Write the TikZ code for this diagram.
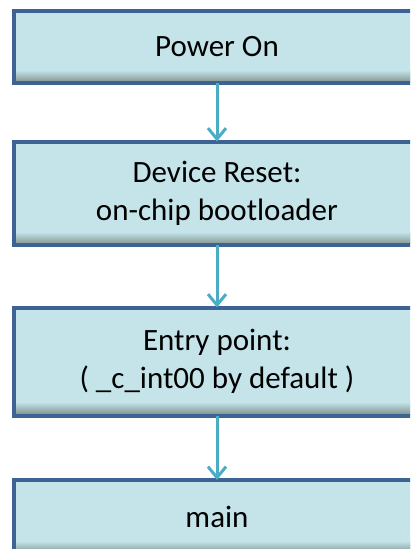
\documentclass[tikz,border=0pt]{standalone}
\usepackage{fontspec}
\setmainfont{Carlito}
\usetikzlibrary{arrows.meta}
\definecolor{boxfill}{HTML}{C4E4EA}
\definecolor{boxline}{HTML}{3C6394}
\definecolor{boxshade}{HTML}{8A9C98}
\definecolor{arrowcol}{HTML}{4BACC6}
\tikzset{
  flowbox/.style={draw=boxline, line width=4pt, fill=boxfill, rectangle,
    minimum width=406pt, outer sep=0pt, inner sep=0pt, align=center,
    font=\fontsize{31}{38}\selectfont, text=black,
    path picture={\foreach \k in {0,...,11}{
        \pgfmathsetmacro\pc{100-100*\k/11}
        \pgfmathsetmacro\ya{1.5+\k}
        \pgfmathsetmacro\yb{2.6+\k}
        \fill[boxshade!\pc!boxfill]
          ([yshift=\ya pt]path picture bounding box.south west) rectangle
          ([yshift=\yb pt]path picture bounding box.south east);}}},
  flowarrow/.style={draw=arrowcol, line width=3pt,
    -{Straight Barb[length=11pt,width=18pt,line width=3pt]}}
}
\begin{document}
\begin{tikzpicture}[x=1pt,y=1pt]
\useasboundingbox (0,0) rectangle (410,-549);
\begin{scope}
\clip (0,0) rectangle (410,-549);
\node[flowbox, minimum height=72pt] (power) at (217,-47) {Power On};
\node[flowbox, minimum height=103.5pt] (reset) at (217,-193.25) {Device Reset:\\on-chip bootloader};
\node[flowbox, minimum height=108pt] (entry) at (217,-361.5) {Entry point:\\( \_c\_int00 by default )};
\node[flowbox, minimum height=74pt] (main) at (217,-517) {main};
\end{scope}
\draw[flowarrow] (power.south) -- (reset.north);
\draw[flowarrow] (reset.south) -- (entry.north);
\draw[flowarrow] (entry.south) -- (main.north);
\end{tikzpicture}
\end{document}
